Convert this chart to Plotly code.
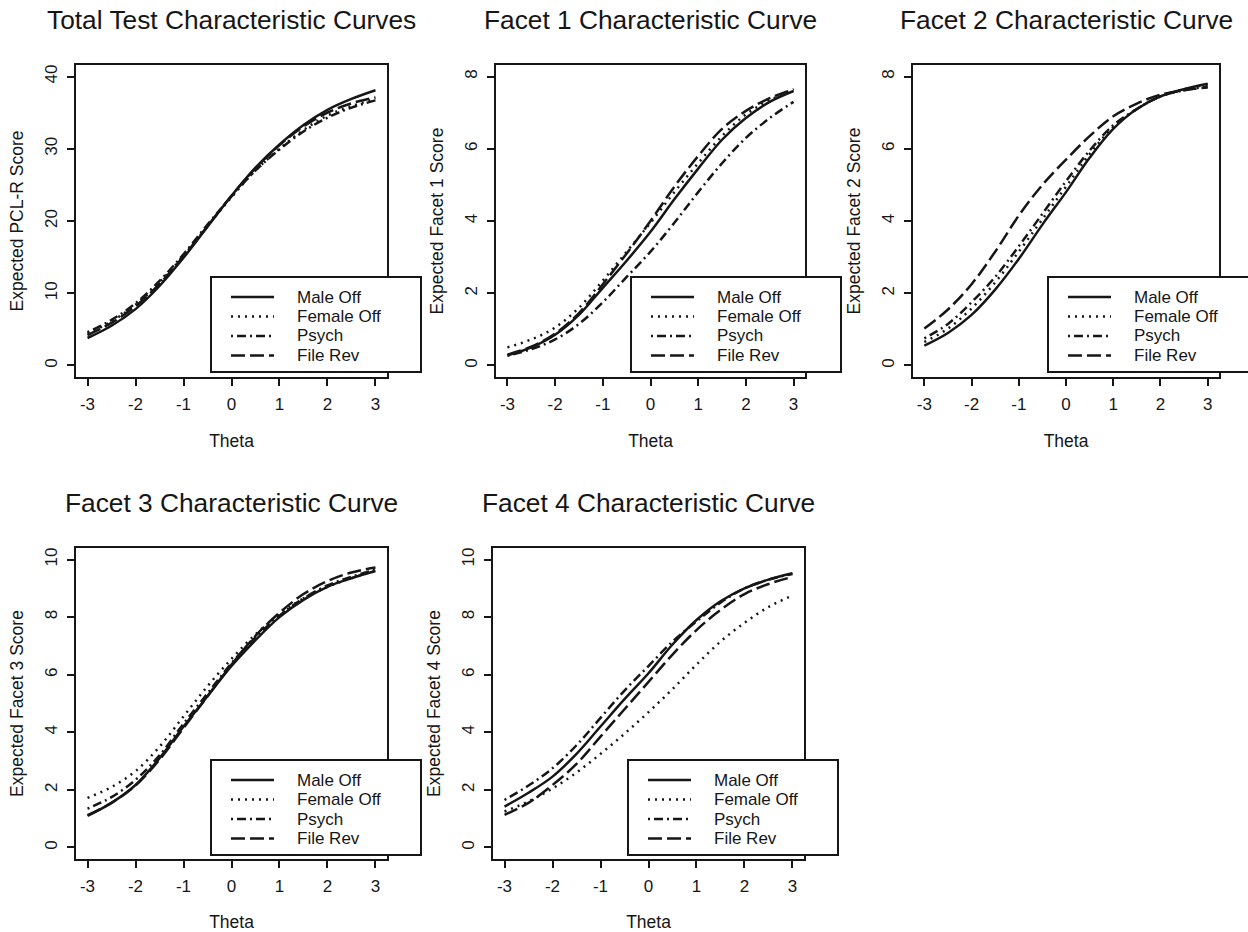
import plotly.graph_objects as go

# ---------------- data ----------------
theta = [-3.0, -2.5, -2.0, -1.5, -1.0, -0.5, 0.0, 0.5, 1.0, 1.5, 2.0, 2.5, 3.0]
groups = ["Male Off", "Female Off", "Psych", "File Rev"]
x_ticks = [-3, -2, -1, 0, 1, 2, 3]
x_ticklabels = ["-3", "-2", "-1", "0", "1", "2", "3"]

total_male = [3.8, 5.5, 7.8, 11.0, 14.9, 19.2, 23.5, 27.4, 30.6, 33.3, 35.4, 36.9, 38.1]
total_female = [4.4, 6.1, 8.4, 11.5, 15.2, 19.3, 23.3, 27.0, 30.0, 32.6, 34.6, 35.9, 36.9]
total_psych = [4.6, 6.3, 8.6, 11.7, 15.4, 19.5, 23.4, 27.0, 29.9, 32.4, 34.3, 35.7, 36.7]
total_filerev = [4.2, 5.9, 8.2, 11.3, 15.1, 19.3, 23.5, 27.3, 30.5, 33.1, 35.0, 36.3, 37.1]

f1_male = [0.28, 0.50, 0.85, 1.40, 2.15, 2.90, 3.70, 4.60, 5.45, 6.25, 6.85, 7.30, 7.60]
f1_female = [0.50, 0.72, 1.05, 1.60, 2.35, 3.15, 3.95, 4.80, 5.60, 6.35, 6.95, 7.35, 7.62]
f1_psych = [0.27, 0.45, 0.72, 1.15, 1.75, 2.45, 3.15, 3.95, 4.80, 5.60, 6.30, 6.85, 7.30]
f1_filerev = [0.30, 0.52, 0.88, 1.45, 2.25, 3.10, 4.00, 4.95, 5.80, 6.55, 7.05, 7.40, 7.65]

f2_male = [0.55, 0.90, 1.40, 2.10, 2.95, 3.90, 4.80, 5.75, 6.55, 7.10, 7.45, 7.65, 7.80]
f2_female = [0.65, 1.02, 1.58, 2.30, 3.15, 4.05, 4.95, 5.85, 6.60, 7.10, 7.45, 7.65, 7.78]
f2_psych = [0.75, 1.15, 1.75, 2.45, 3.30, 4.20, 5.10, 5.95, 6.65, 7.10, 7.45, 7.62, 7.72]
f2_filerev = [1.02, 1.55, 2.25, 3.15, 4.15, 5.00, 5.70, 6.35, 6.90, 7.25, 7.50, 7.62, 7.70]

f3_male = [1.10, 1.55, 2.17, 3.10, 4.20, 5.25, 6.30, 7.20, 8.00, 8.60, 9.05, 9.35, 9.60]
f3_female = [1.72, 2.10, 2.65, 3.50, 4.55, 5.60, 6.55, 7.40, 8.10, 8.65, 9.05, 9.35, 9.60]
f3_psych = [1.35, 1.75, 2.35, 3.20, 4.30, 5.35, 6.40, 7.30, 8.05, 8.65, 9.10, 9.40, 9.65]
f3_filerev = [1.12, 1.55, 2.15, 3.05, 4.15, 5.25, 6.35, 7.35, 8.15, 8.80, 9.25, 9.55, 9.72]

f4_male = [1.42, 1.90, 2.46, 3.25, 4.20, 5.15, 6.05, 7.05, 7.90, 8.55, 9.00, 9.30, 9.52]
f4_female = [1.25, 1.60, 2.05, 2.60, 3.25, 3.95, 4.70, 5.50, 6.35, 7.15, 7.80, 8.35, 8.75]
f4_psych = [1.65, 2.15, 2.75, 3.55, 4.50, 5.45, 6.30, 7.15, 7.85, 8.50, 9.00, 9.30, 9.50]
f4_filerev = [1.13, 1.55, 2.17, 2.90, 3.85, 4.80, 5.75, 6.70, 7.55, 8.25, 8.80, 9.15, 9.40]

panel_titles = ["Total Test Characteristic Curves", "Facet 1 Characteristic Curve",
                "Facet 2 Characteristic Curve", "Facet 3 Characteristic Curve",
                "Facet 4 Characteristic Curve"]
y_titles = ["Expected PCL-R Score", "Expected Facet 1 Score", "Expected Facet 2 Score",
            "Expected Facet 3 Score", "Expected Facet 4 Score"]
y_limits = [(0, 40), (0, 8), (0, 8), (0, 10), (0, 10)]
y_ticks = [[0, 10, 20, 30, 40], [0, 2, 4, 6, 8], [0, 2, 4, 6, 8],
           [0, 2, 4, 6, 8, 10], [0, 2, 4, 6, 8, 10]]
panel_series = [
    [total_male, total_female, total_psych, total_filerev],
    [f1_male, f1_female, f1_psych, f1_filerev],
    [f2_male, f2_female, f2_psych, f2_filerev],
    [f3_male, f3_female, f3_psych, f3_filerev],
    [f4_male, f4_female, f4_psych, f4_filerev],
]

# ---------------- styling / layout ----------------
W, H = 1248, 932
FONT = "Liberation Sans"
INK = "#161616"
dashes = {"Male Off": "solid", "Female Off": "2px,5px",
          "Psych": "2px,4px,9px,4px", "File Rev": "14px,5px"}
# plot boxes in pixels: left, right, top, bottom
boxes = [(76, 387, 65, 377), (496, 805, 65, 377), (913, 1219, 65, 377),
         (76, 387, 548, 859), (493, 804, 548, 859)]


def px(x):
    return x / W


def py(y):
    return 1 - y / H


fig = go.Figure()
shapes, annotations = [], []

for i in range(5):
    ax = "" if i == 0 else str(i + 1)
    xa, ya = "x" + ax, "y" + ax
    l, r, t, b = boxes[i]
    for g, vals in zip(groups, panel_series[i]):
        fig.add_trace(go.Scatter(
            x=theta, y=vals, mode="lines", name=g, showlegend=False,
            line=dict(color=INK, width=2.5, dash=dashes[g], shape="spline", smoothing=1.0),
            xaxis=xa, yaxis=ya, hoverinfo="skip"))
    lo, hi = y_limits[i]
    pad = 0.04 * (hi - lo)
    common = dict(showline=True, mirror=True, linecolor=INK, linewidth=2,
                  ticks="outside", ticklen=7, tickwidth=2, tickcolor=INK,
                  showgrid=False, zeroline=False,
                  tickfont=dict(family=FONT, size=17, color=INK),
                  title_font=dict(family=FONT, size=17.5, color=INK))
    fig.update_layout(**{
        "xaxis" + ax: dict(domain=[px(l), px(r)], anchor=ya, range=[-3.24, 3.24],
                           tickvals=x_ticks, ticktext=x_ticklabels, ticklabelstandoff=4,
                           title=dict(text="Theta", standoff=21), **common),
        "yaxis" + ax: dict(domain=[py(b), py(t)], anchor=xa, range=[lo - pad, hi + pad],
                           tickvals=y_ticks[i], ticktext=[str(v) for v in y_ticks[i]],
                           tickangle=-90, ticklabelstandoff=3,
                           title=dict(text=y_titles[i], standoff=14), **common),
    })
    # title
    ty = 20 if i < 3 else 503
    annotations.append(dict(text=panel_titles[i], x=px((l + r) / 2), y=py(ty),
                            xref="paper", yref="paper", showarrow=False,
                            xanchor="center", yanchor="middle",
                            font=dict(family=FONT, size=26.3, color=INK)))
    # legend box
    lx, lt = l + 135, t + 212
    shapes.append(dict(type="rect", xref="paper", yref="paper",
                       x0=px(lx), x1=px(lx + 210), y0=py(lt + 95), y1=py(lt),
                       line=dict(color=INK, width=2), fillcolor="white", layer="above"))
    for k, g in enumerate(groups):
        ry = lt + 20 + 19.5 * k
        shapes.append(dict(type="line", xref="paper", yref="paper",
                           x0=px(lx + 20), x1=px(lx + 63), y0=py(ry), y1=py(ry),
                           line=dict(color=INK, width=2.4, dash=dashes[g]), layer="above"))
        annotations.append(dict(text=g, x=px(lx + 84), y=py(ry), xref="paper", yref="paper",
                                showarrow=False, xanchor="left", yanchor="middle",
                                font=dict(family=FONT, size=17, color=INK)))

fig.update_layout(width=W, height=H, margin=dict(l=0, r=0, t=0, b=0),
                  paper_bgcolor="white", plot_bgcolor="white",
                  shapes=shapes, annotations=annotations, showlegend=False)

fig.write_html("out.html")
